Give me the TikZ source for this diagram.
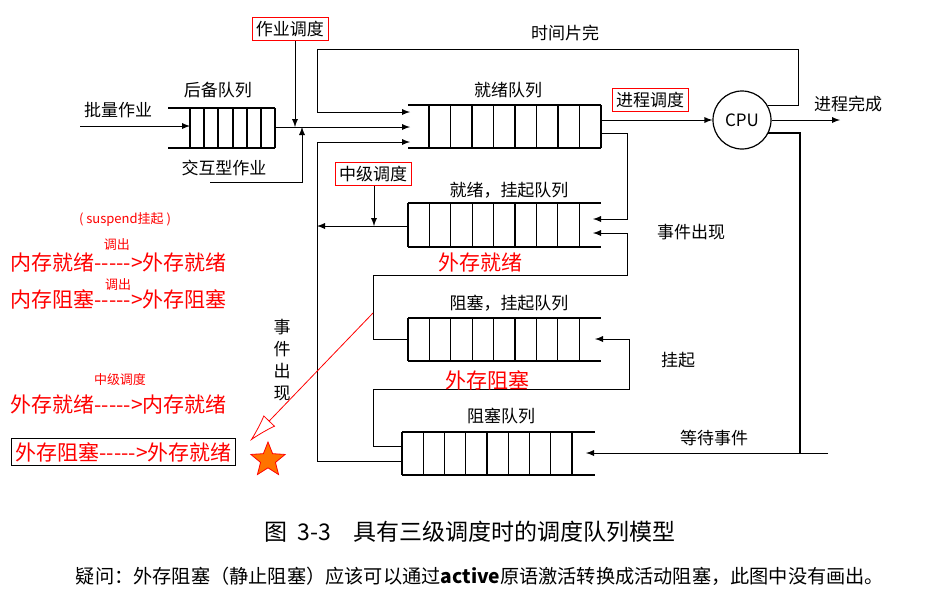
\documentclass[tikz,border=0pt]{standalone}
\usepackage{fontspec}
\setmainfont{Noto Sans CJK SC}
\usetikzlibrary{positioning, calc, arrows.meta, shapes.geometric}
\newcommand{\dashto}{-{}-{}-{}-{}-{}>}
\tikzset{
	lbl/.style={font=\fontsize{8.5}{9}\selectfont, inner sep=1pt},
	redbox/.style={draw=red, thin, inner sep=2pt, font=\fontsize{8.5}{9}\selectfont},
	note/.style={text=red, font=\fontsize{10.5}{11}\selectfont, inner sep=0pt},
	smallnote/.style={text=red, font=\fontsize{6.5}{7}\selectfont, inner sep=0pt},
	flow/.style={->, >=latex, thin}
}

\begin{document}
\begin{tikzpicture}[x=0.5pt, y=-0.5pt, line width=0.6pt]
	\useasboundingbox (0,0) rectangle (950,591);

	% queues
	\draw (168,108) -- (275,108) (168,148) -- (275,148);
	\foreach \x in {190,204,218,233,247,261,275} \draw (\x,108) -- (\x,148);
	\draw (408,105) -- (601,105) (408,148) -- (601,148);
	\foreach \i in {0,...,8} \draw ({429+\i*21.5},105) -- ({429+\i*21.5},148);
	\draw (408,203) -- (601,203) (408,247) -- (601,247);
	\foreach \i in {0,...,8} \draw ({408+\i*21.4},203) -- ({408+\i*21.4},247);
	\draw (408,318) -- (601,318) (408,361) -- (601,361);
	\foreach \i in {0,...,8} \draw ({408+\i*21.4},318) -- ({408+\i*21.4},361);
	\draw (402,432) -- (595,432) (402,475) -- (595,475);
	\foreach \i in {0,...,8} \draw ({402+\i*21.25},432) -- ({402+\i*21.25},475);

	% queue labels
	\node[lbl] (backq) at (218,90) {后备队列};
	\node[lbl] (readyq) at (508,90) {就绪队列};
	\node[lbl] (rsq) at (509,190) {就绪，挂起队列};
	\node[lbl] (bsq) at (509,303) {阻塞，挂起队列};
	\node[lbl] (blockq) at (501,416) {阻塞队列};

	% other labels
	\node[lbl] (batch) at (118,110) {批量作业};
	\node[lbl] (inter) at (224,168) {交互型作业};
	\node[lbl] (slice) at (565,33) {时间片完};
	\node[lbl] (done) at (848,104) {进程完成};
	\node[lbl] (evt) at (691,232) {事件出现};
	\node[lbl] (susp) at (678,360) {挂起};
	\node[lbl] (wait) at (714,438) {等待事件};
	\node[lbl, text width=9pt, align=center] (evtv) at (282,360) {事\\[2pt]件\\[2pt]出\\[2pt]现};

	% schedulers
	\node[redbox] (jobsch) at (290,29) {作业调度};
	\node[redbox] (procsch) at (650,100) {进程调度};
	\node[redbox] (midsch) at (373,174) {中级调度};
	\node[draw, circle, minimum size=29pt, inner sep=0pt, font=\fontsize{8.5}{9}\selectfont] (cpu) at (742,120) {CPU};

	% connections
	\coordinate (in1) at (410,112);
	\coordinate (in2) at (410,127);
	\coordinate (in3) at (410,142);
	\draw[flow] (80,126) -- (190,126);
	\draw[flow] (275,127) -- (in2);
	\draw[flow] (jobsch.south -| 295,0) -- (295,127);
	\draw[flow] (210,182) -| (302,127);
	\draw[flow] (768,105) -- (798,105) |- (317,49) -- (317,112) -- (in1);
	\draw[flow] (601,120) -- (cpu);
	\draw[flow] (cpu) -- (840,120);
	\draw (768,133) -- (800,133) -- (800,453);
	\draw[flow] (828,453) -- (586,453);
	\draw[flow] (601,133) -| (627,219) -- (593,219);
	\draw[flow] (408,226) -- (317,226);
	\draw[flow] (midsch.south -| 374,0) -- (374,226);
	\draw[flow] (402,461) -| (317,142) -- (in3);
	\draw[flow] (408,339) -| (373,275) -| (627,233) -- (593,233);
	\draw[flow] (402,446) -| (373,389) -| (629,339) -- (595,339);

	% notes
	\node[note] (rout) at (480,263) {外存就绪};
	\node[note] (bout) at (487,380) {外存阻塞};
	\node[smallnote] (sp) at (125,220) {( suspend挂起 )};
	\node[smallnote] (o1) at (117,245) {调出};
	\node[note, anchor=west] (n1) at (10,263) {内存就绪\dashto 外存就绪};
	\node[smallnote] (o2) at (118,285) {调出};
	\node[note, anchor=west] (n2) at (10,299) {内存阻塞\dashto 外存阻塞};
	\node[smallnote] (m1) at (120,380) {中级调度};
	\node[note, anchor=west] (n3) at (10,405) {外存就绪\dashto 内存就绪};
	\node[note, anchor=west, draw=black, inner sep=2pt] (n4) at (11,452) {外存阻塞\dashto 外存就绪};
	\draw[red, thin, -{Latex[open, length=14pt, width=8pt]}] (373,313) -- (250,441);
	\node[star, star points=5, star point ratio=2.3, fill=orange!90!red, draw=red, thin, minimum size=18pt, inner sep=0pt] (st) at (268,460) {};

	% caption
	\node[font=\fontsize{11.5}{12}\selectfont] (cap) at (470,532) {图\ \ 3-3\quad 具有三级调度时的调度队列模型};
	\node[font=\fontsize{9.6}{11}\selectfont] (q) at (480,576) {疑问：外存阻塞（静止阻塞）应该可以通过\textbf{active}原语激活转换成活动阻塞，此图中没有画出。};
\end{tikzpicture}
\end{document}
